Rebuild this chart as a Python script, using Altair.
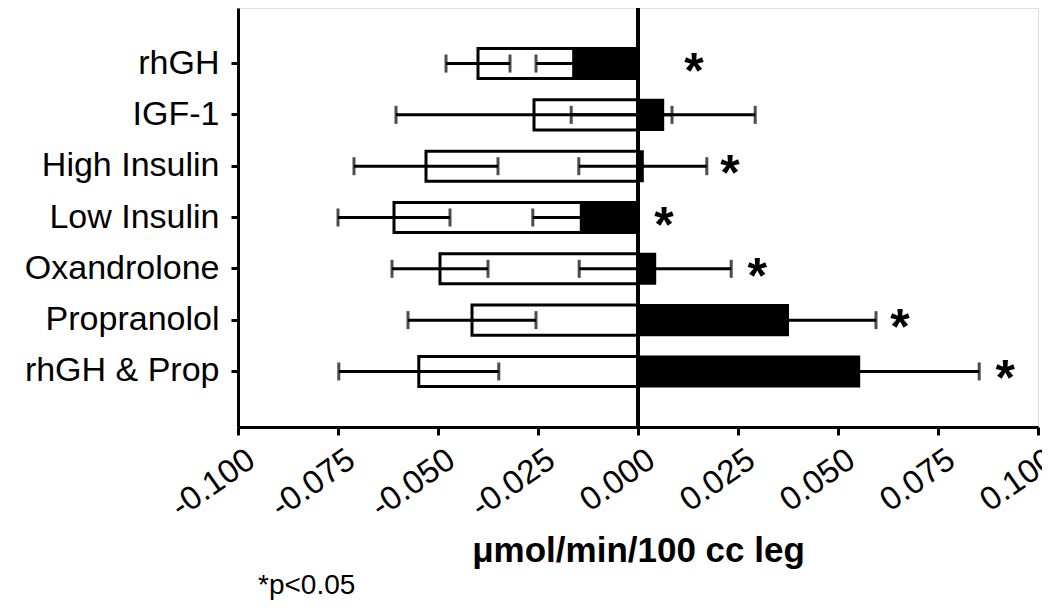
import altair as alt
import pandas as pd

categories = ["rhGH", "IGF-1", "High Insulin", "Low Insulin", "Oxandrolone", "Propranolol", "rhGH & Prop"]
baseline_mean = [-0.040, -0.026, -0.053, -0.061, -0.0495, -0.0415, -0.0548]
baseline_se = [0.008, 0.0345, 0.018, 0.014, 0.012, 0.016, 0.020]
treat_mean = [-0.0162, 0.0063, 0.0012, -0.0143, 0.0043, 0.0375, 0.0553]
treat_se = [0.0093, 0.023, 0.016, 0.012, 0.019, 0.022, 0.030]
star_x = [0.014, None, 0.023, 0.0065, 0.0298, 0.0655, 0.0918]
x_ticks = [-0.1, -0.075, -0.05, -0.025, 0.0, 0.025, 0.05, 0.075, 0.1]

FONT = "Liberation Sans"

df = pd.DataFrame({
    "cat": categories,
    "base": baseline_mean,
    "base_lo": [m - s for m, s in zip(baseline_mean, baseline_se)],
    "base_hi": [m + s for m, s in zip(baseline_mean, baseline_se)],
    "treat": treat_mean,
    "treat_lo": [m - s for m, s in zip(treat_mean, treat_se)],
    "treat_hi": [m + s for m, s in zip(treat_mean, treat_se)],
    "zero": [0.0] * len(categories),
})
stars = pd.DataFrame({"cat": categories, "sx": star_x}).dropna()

xscale = alt.Scale(domain=[-0.1, 0.1], nice=False, zero=False)
yscale = alt.Scale(domain=categories, paddingInner=0.415, paddingOuter=0.79)

X = lambda f, **kw: alt.X(f, type="quantitative", scale=xscale, **kw)
Y = alt.Y("cat:N", sort=categories, scale=yscale,
          axis=alt.Axis(title=None, labelFontSize=34, labelFont=FONT, labelPadding=12,
                        labelLimit=400, tickSize=7, tickWidth=3, domainWidth=3,
                        labelColor="black", tickColor="black", domainColor="black"))

xaxis = alt.Axis(
    values=x_ticks,
    labelExpr="(datum.value < 0 ? '-' : '') + format(abs(datum.value), '.3f')",
    labelAngle=-35, labelAlign="right", labelBaseline="top", labelOffset=4,
    labelPadding=8, labelFontSize=33, labelFont=FONT, labelColor="black",
    labelLimit=400, labelOverlap=False, labelFlush=False,
    tickSize=8, tickWidth=3, domainWidth=3, tickColor="black", domainColor="black",
    title="\u03bcmol/min/100 cc leg", titleFontSize=35, titleFont=FONT,
    titleFontWeight="bold", titleColor="black", titleY=134, titleBaseline="alphabetic",
    grid=False,
)

base = alt.Chart(df)

white_bar = base.mark_bar(fill="white", stroke="black", strokeWidth=3).encode(
    x=X("base", axis=xaxis), x2="zero", y=Y)
white_err = base.mark_rule(color="black", strokeWidth=3).encode(
    x=X("base_lo"), x2="base_hi", y=Y)
white_cap_lo = base.mark_tick(color="black", thickness=3, size=18).encode(x=X("base_lo"), y=Y)
white_cap_hi = base.mark_tick(color="black", thickness=3, size=18).encode(x=X("base_hi"), y=Y)

black_bar = base.mark_bar(fill="black", stroke="black", strokeWidth=2).encode(
    x=X("treat"), x2="zero", y=Y)
black_err = base.mark_rule(color="black", strokeWidth=3).encode(
    x=X("treat_lo"), x2="treat_hi", y=Y)
black_cap_lo = base.mark_tick(color="black", thickness=3, size=18).encode(x=X("treat_lo"), y=Y)
black_cap_hi = base.mark_tick(color="black", thickness=3, size=18).encode(x=X("treat_hi"), y=Y)

zero_line = base.mark_rule(color="black", strokeWidth=3).encode(x=X("zero"))

star_text = alt.Chart(stars).mark_text(
    text="*", fontSize=50, fontWeight="bold", font=FONT, color="black",
    align="center", baseline="middle", dy=9).encode(x=X("sx"), y=Y)

chart = alt.layer(
    white_bar, white_err, white_cap_lo, white_cap_hi,
    black_bar, black_err, black_cap_lo, black_cap_hi,
    zero_line, star_text,
).properties(
    width=800, height=419,
    autosize=alt.AutoSizeParams(type="none"),
    padding={"left": 230, "top": 0, "right": 4, "bottom": 174},
    title=alt.TitleParams("*p<0.05", orient="bottom", anchor="start", frame="group",
                          fontSize=28, font=FONT, fontWeight="normal", color="black",
                          dx=20, offset=4),
).configure_view(stroke=None).configure(background="white")

chart.save("out.html", embed_options={"renderer": "svg", "actions": False})
